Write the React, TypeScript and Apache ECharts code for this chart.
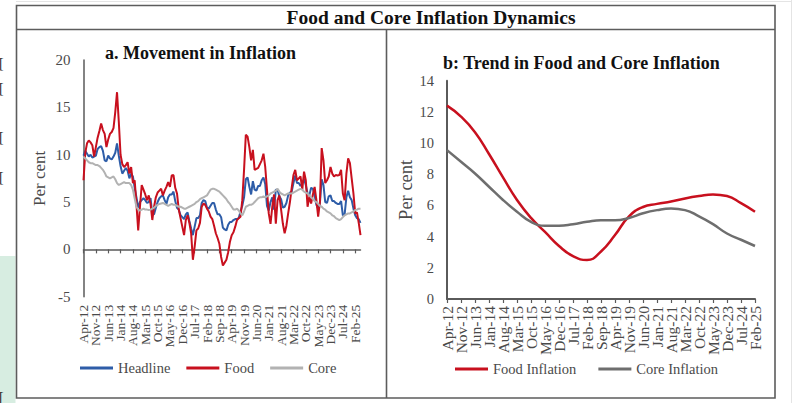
import React, { useEffect, useRef } from 'react';
import * as echarts from 'echarts';

const FONT = '"Liberation Serif", "Times New Roman", serif';

const MONTHS = ['Jan', 'Feb', 'Mar', 'Apr', 'May', 'Jun', 'Jul', 'Aug', 'Sep', 'Oct', 'Nov', 'Dec'];
// Monthly categories, Apr-12 ... May-25 (158 months)
const monthCategories: string[] = Array.from({ length: 158 }, (_, i) => {
  const k = 3 + i;
  return `${MONTHS[k % 12]}-${12 + Math.floor(k / 12)}`;
});
// a tick label every 7 months (Apr-12, Nov-12, ... Feb-25)
const LABEL_STEP = 7;

// Panel a: monthly y-o-y inflation (per cent)
const headline = [
  9.9, 10.4, 10.1, 9.8, 10.0, 9.7, 9.8, 9.9, 10.6,
  10.8, 10.9, 10.4, 9.4, 9.3, 9.9, 9.6, 9.5, 9.8, 10.2, 11.2, 9.9,
  8.8, 8.0, 8.3, 8.6, 8.3, 7.5, 8.0, 7.7, 6.5, 5.5, 4.4, 5.0,
  5.2, 5.4, 5.2, 4.9, 5.0, 5.4, 3.7, 3.7, 4.4, 5.0, 5.4, 5.6,
  5.7, 5.2, 4.8, 5.5, 5.8, 5.8, 6.1, 5.1, 4.4, 4.2, 3.6, 3.4,
  3.2, 3.7, 3.9, 3.0, 2.2, 1.5, 2.4, 3.3, 3.3, 3.6, 4.9, 5.2,
  5.1, 4.4, 4.3, 4.6, 4.9, 4.9, 4.2, 3.7, 3.7, 3.4, 2.3, 2.1,
  2.0, 2.6, 2.9, 2.9, 3.1, 3.2, 3.2, 3.3, 4.0, 4.6, 5.5, 7.4,
  7.6, 6.6, 5.8, 7.2, 6.3, 6.2, 6.7, 6.7, 7.3, 7.6, 6.9, 4.6,
  4.1, 5.0, 5.5, 4.2, 6.3, 6.3, 5.6, 5.3, 4.4, 4.5, 4.9, 5.7,
  6.0, 6.1, 7.0, 7.8, 7.0, 7.0, 6.7, 7.0, 7.4, 6.8, 5.9, 5.7,
  6.5, 6.4, 5.7, 4.7, 4.3, 4.9, 7.4, 6.8, 5.0, 4.9, 5.6, 5.7,
  5.1, 5.1, 4.9, 4.8, 4.8, 5.1, 3.6, 3.7, 5.5, 6.2, 5.5, 5.2,
  4.3, 3.6, 3.3, 3.2, 2.8,
];

const food = [
  7.3, 10.2, 11.2, 11.5, 11.3, 11.0, 9.8, 10.8, 11.8,
  12.5, 13.3, 12.6, 12.2, 10.8, 11.6, 12.2, 12.4, 12.8, 14.5, 16.6, 13.5,
  10.0, 9.0, 8.7, 8.9, 9.2, 8.0, 8.7, 7.0, 7.3, 4.8, 2.0, 4.5,
  6.8, 6.3, 5.8, 5.2, 5.7, 4.8, 3.1, 4.5, 5.5, 6.0, 6.2, 6.4,
  5.7, 6.2, 6.6, 7.1, 6.6, 7.8, 7.85, 6.5, 5.9, 4.2, 3.3, 2.4,
  1.5, 3.1, 3.6, 2.8, 1.7, -1.1, 0.3, 2.0, 2.2, 2.8, 4.5, 4.85,
  4.7, 4.3, 4.0, 3.45, 3.2, 2.5, 1.7, 1.2, 0.6, -0.8, -1.7, -1.4,
  -1.1, -0.3, 0.8, 1.5, 1.8, 2.4, 3.1, 3.3, 3.45, 5.2, 8.4, 12.1,
  11.9, 10.8, 9.4, 10.5, 8.4, 8.5, 8.6, 9.0, 9.4, 10.1, 8.7, 6.3,
  3.8, 2.7, 4.5, 5.8, 2.7, 5.2, 5.7, 4.2, 2.7, 1.7, 2.5, 3.8,
  5.0, 6.5, 7.85, 8.4, 7.3, 7.5, 7.7, 6.3, 8.2, 7.3, 4.5, 5.6,
  4.85, 5.8, 6.6, 5.2, 3.45, 5.0, 10.7, 9.4, 7.0, 7.3, 7.7, 8.7,
  8.0, 7.7, 7.85, 7.8, 7.85, 8.4, 5.9, 5.2, 8.0, 9.6, 9.1, 7.5,
  5.9, 3.8, 3.9, 2.8, 1.5,
];

const core = [
  9.8, 9.6, 9.4, 9.2, 9.1, 9.1, 9.0, 8.9, 8.9,
  8.8, 8.6, 8.4, 8.1, 7.7, 7.6, 7.5, 7.6, 7.7, 7.4, 7.0, 6.8,
  6.9, 7.0, 7.1, 7.0, 7.0, 7.0, 6.8, 6.3, 5.4, 4.5, 4.2, 4.1,
  4.2, 4.3, 4.2, 4.2, 4.15, 4.2, 4.3, 4.4, 4.6, 4.7, 4.8, 4.85,
  4.9, 4.8, 4.7, 4.6, 4.7, 4.8, 4.7, 4.7, 4.6, 4.5, 4.5, 4.4,
  4.3, 4.3, 4.4, 4.5, 4.6, 4.7, 4.8, 5.0, 5.1, 5.3, 5.4, 5.5,
  5.6, 5.7, 6.0, 6.3, 6.4, 6.4, 6.3, 6.2, 6.1, 5.9, 5.7, 5.5,
  5.3, 5.0, 4.8, 4.5, 4.2, 4.2, 4.3, 4.1, 3.8, 3.6, 4.0, 4.5,
  4.6, 4.7, 4.7, 4.8, 5.0, 5.2, 5.4, 5.5, 5.5, 5.6, 5.5, 5.6,
  5.7, 5.9, 6.0, 6.1, 6.2, 6.4, 6.1, 5.9, 5.8, 5.7, 5.8, 5.9,
  5.9, 5.9, 6.0, 6.1, 6.2, 6.3, 6.4, 6.3, 6.1, 6.0, 5.9, 5.7,
  5.5, 5.3, 5.1, 5.0, 4.8, 4.6, 4.5, 4.3, 4.2, 4.0, 3.9, 3.8,
  3.6, 3.5, 3.3, 3.2, 3.1, 3.2, 3.4, 3.6, 3.7, 3.8, 3.8, 3.9,
  4.0, 4.15, 4.2, 4.3, 4.3,
];

// Panel b: trend
const trendCategories = [
  'Apr-12', 'Nov-12', 'Jun-13', 'Jan-14', 'Aug-14', 'Mar-15', 'Oct-15', 'May-16',
  'Dec-16', 'Jul-17', 'Feb-18', 'Sep-18', 'Apr-19', 'Nov-19', 'Jun-20', 'Jan-21',
  'Aug-21', 'Mar-22', 'Oct-22', 'May-23', 'Dec-23', 'Jul-24', 'Feb-25',
];
const foodTrend = [12.4, 11.7, 10.7, 9.3, 7.8, 6.35, 5.2, 4.3, 3.4, 2.75, 2.5, 3.05, 4.1, 5.3, 5.9, 6.1, 6.25, 6.45, 6.6, 6.7, 6.6, 6.15, 5.6];
const coreTrend = [9.55, 8.8, 8.05, 7.2, 6.35, 5.6, 4.95, 4.7, 4.7, 4.8, 4.95, 5.05, 5.05, 5.2, 5.5, 5.7, 5.8, 5.7, 5.3, 4.8, 4.2, 3.8, 3.4];

const AXIS_COLOR = '#5a5a5a';
const LABEL_COLOR = '#4a4a4a';
const BLUE = '#2E5DA8';
const RED = '#C8101E';
const LIGHT_GRAY = '#B2B2B2';
const DARK_GRAY = '#6E6E6E';

export default function App() {
  const ref = useRef<HTMLDivElement>(null);

  useEffect(() => {
    if (!ref.current) return;
    const chart = echarts.init(ref.current, undefined, { renderer: 'svg', width: 798, height: 403 });

    const edgeGlyph = (y: number, t: string) => ({
      type: 'text',
      x: -1,
      y,
      silent: true,
      style: { text: t, font: `14px ${FONT}`, fill: '#222', textAlign: 'left', textVerticalAlign: 'middle' },
    });

    const option: any = {
      animation: false,
      backgroundColor: '#ffffff',
      grid: [
        { left: 83.5, top: 60, width: 277, height: 236.7, containLabel: false },
        { left: 447, top: 80.7, width: 308, height: 218.3, containLabel: false },
      ],
      xAxis: [
        {
          gridIndex: 0,
          type: 'category',
          data: monthCategories,
          boundaryGap: false,
          position: 'bottom',
          axisLine: { show: true, onZero: true, lineStyle: { color: AXIS_COLOR, width: 1.5 } },
          axisTick: { show: true, interval: LABEL_STEP - 1, length: 4, lineStyle: { color: AXIS_COLOR, width: 1.2 } },
          axisLabel: { show: false },
          splitLine: { show: false },
        },
        {
          gridIndex: 0,
          type: 'category',
          data: monthCategories,
          boundaryGap: false,
          position: 'bottom',
          axisLine: { show: false, onZero: false },
          axisTick: { show: false },
          axisLabel: {
            show: true,
            interval: 0,
            showMinLabel: true,
            showMaxLabel: true,
            hideOverlap: false,
            formatter: (value: string, index: number) => (index % LABEL_STEP === 0 ? value : ''),
            rotate: 90,
            margin: 8,
            fontSize: 13.5,
            fontFamily: FONT,
            color: LABEL_COLOR,
          },
          splitLine: { show: false },
        },
        {
          gridIndex: 1,
          type: 'category',
          data: trendCategories,
          boundaryGap: false,
          position: 'bottom',
          axisLine: { show: true, onZero: true, lineStyle: { color: AXIS_COLOR, width: 2 } },
          axisTick: { show: true, interval: 0, length: 4, lineStyle: { color: AXIS_COLOR, width: 1.2 } },
          axisLabel: {
            show: true, interval: 0, rotate: 90, margin: 7, hideOverlap: false,
            showMinLabel: true, showMaxLabel: true,
            fontSize: 15.5, fontFamily: FONT, color: LABEL_COLOR,
          },
          splitLine: { show: false },
        },
      ],
      yAxis: [
        {
          gridIndex: 0,
          type: 'value',
          min: -5,
          max: 20,
          interval: 5,
          axisLine: { show: true, lineStyle: { color: AXIS_COLOR, width: 1.5 } },
          axisTick: { show: false },
          splitLine: { show: false },
          axisLabel: { fontSize: 15, fontFamily: FONT, color: LABEL_COLOR, margin: 13 },
          name: 'Per cent',
          nameLocation: 'middle',
          nameRotate: 90,
          nameGap: 36,
          nameTextStyle: { fontSize: 17, fontFamily: FONT, color: LABEL_COLOR },
        },
        {
          gridIndex: 1,
          type: 'value',
          min: 0,
          max: 14,
          interval: 2,
          axisLine: { show: true, lineStyle: { color: AXIS_COLOR, width: 2 } },
          axisTick: { show: false },
          splitLine: { show: false },
          axisLabel: { fontSize: 14.5, fontFamily: FONT, color: LABEL_COLOR, margin: 13 },
          name: 'Per cent',
          nameLocation: 'middle',
          nameRotate: 90,
          nameGap: 29.5,
          nameTextStyle: { fontSize: 18.5, fontFamily: FONT, color: LABEL_COLOR },
        },
      ],
      legend: [
        {
          data: ['Headline', 'Food', 'Core'],
          left: 80,
          top: 360.5,
          icon: 'rect',
          itemWidth: 33,
          itemHeight: 3,
          itemGap: 16,
          padding: 0,
          selectedMode: false,
          textStyle: { fontSize: 14.5, fontFamily: FONT, color: LABEL_COLOR },
        },
        {
          data: ['Food Inflation', 'Core Inflation'],
          left: 455,
          top: 361.5,
          icon: 'rect',
          itemWidth: 33,
          itemHeight: 3,
          itemGap: 22,
          padding: 0,
          selectedMode: false,
          textStyle: { fontSize: 14.5, fontFamily: FONT, color: LABEL_COLOR },
        },
      ],
      series: [
        {
          name: 'Headline', type: 'line', xAxisIndex: 0, yAxisIndex: 0, data: headline,
          symbol: 'none', lineStyle: { color: BLUE, width: 2 }, itemStyle: { color: BLUE },
        },
        {
          name: 'Food', type: 'line', xAxisIndex: 0, yAxisIndex: 0, data: food,
          symbol: 'none', lineStyle: { color: RED, width: 2 }, itemStyle: { color: RED },
        },
        {
          name: 'Core', type: 'line', xAxisIndex: 0, yAxisIndex: 0, data: core,
          symbol: 'none', lineStyle: { color: LIGHT_GRAY, width: 2 }, itemStyle: { color: LIGHT_GRAY },
        },
        {
          name: 'Food Inflation', type: 'line', xAxisIndex: 2, yAxisIndex: 1, data: foodTrend,
          smooth: 0.5, symbol: 'none', lineStyle: { color: RED, width: 2.5 }, itemStyle: { color: RED },
        },
        {
          name: 'Core Inflation', type: 'line', xAxisIndex: 2, yAxisIndex: 1, data: coreTrend,
          smooth: 0.5, symbol: 'none', lineStyle: { color: DARK_GRAY, width: 2.5 }, itemStyle: { color: DARK_GRAY },
        },
      ],
      graphic: [
        // page artifacts at the left edge
        { type: 'rect', silent: true, shape: { x: 0, y: 256, width: 15.5, height: 147 }, style: { fill: '#d7ede1' } },
        edgeGlyph(63, '['),
        edgeGlyph(88, '['),
        edgeGlyph(137, '['),
        edgeGlyph(177, '['),
        edgeGlyph(397, '['),
        { type: 'line', silent: true, shape: { x1: 16, y1: 1.5, x2: 792, y2: 1.5 }, style: { stroke: '#e4e4e4', lineWidth: 1 } },
        { type: 'line', silent: true, shape: { x1: 791.5, y1: 0, x2: 791.5, y2: 403 }, style: { stroke: '#e4e4e4', lineWidth: 1 } },
        // frame
        { type: 'rect', silent: true, shape: { x: 16.5, y: 5.5, width: 758.5, height: 392.5 }, style: { fill: 'none', stroke: '#5c5c5c', lineWidth: 1.6 } },
        { type: 'line', silent: true, shape: { x1: 16.5, y1: 29.5, x2: 775, y2: 29.5 }, style: { stroke: '#5c5c5c', lineWidth: 1.6 } },
        { type: 'line', silent: true, shape: { x1: 386.5, y1: 29.5, x2: 386.5, y2: 398 }, style: { stroke: '#5c5c5c', lineWidth: 1.6 } },
        // titles
        {
          type: 'text', x: 431, y: 17.5, silent: true,
          style: { text: 'Food and Core Inflation Dynamics', font: `bold 19.5px ${FONT}`, fill: '#111', textAlign: 'center', textVerticalAlign: 'middle' },
        },
        {
          type: 'text', x: 105, y: 52.5, silent: true,
          style: { text: 'a. Movement in Inflation', font: `bold 18px ${FONT}`, fill: '#111', textAlign: 'left', textVerticalAlign: 'middle' },
        },
        {
          type: 'text', x: 443, y: 62.5, silent: true,
          style: { text: 'b: Trend in Food and Core Inflation', font: `bold 18px ${FONT}`, fill: '#111', textAlign: 'left', textVerticalAlign: 'middle' },
        },
      ],
    };

    chart.setOption(option);
    return () => {
      chart.dispose();
    };
  }, []);

  return (
    <div
      ref={ref}
      style={{ position: 'fixed', left: 0, top: 0, width: 798, height: 403, background: '#fff' }}
    />
  );
}
